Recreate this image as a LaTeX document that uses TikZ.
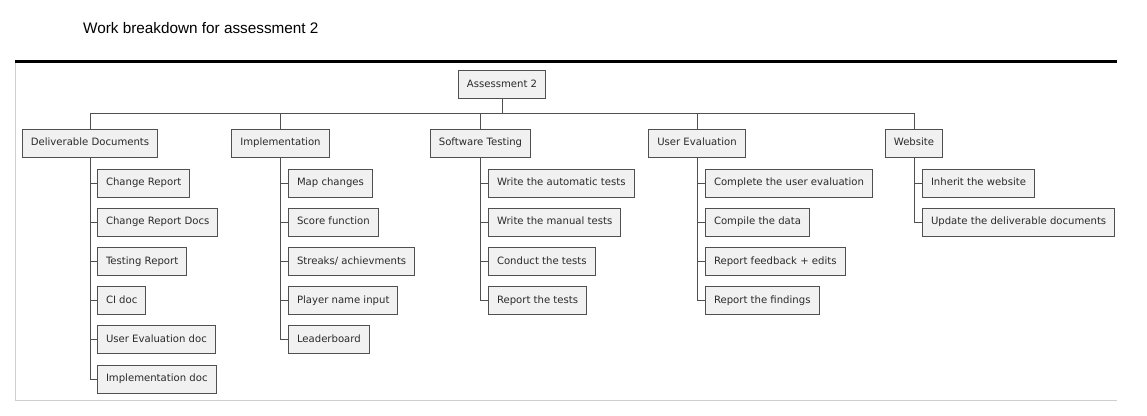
\documentclass[tikz,border=0pt]{standalone}
\usepackage{fontspec}
\setmainfont{DejaVu Sans}
\newfontfamily\titlefont{Liberation Sans}
\usetikzlibrary{calc}

\definecolor{boxfill}{HTML}{F1F1F1}
\definecolor{boxline}{HTML}{505050}
\definecolor{boxtext}{HTML}{2A2A2A}
\definecolor{framegray}{HTML}{CFCFCF}

\begin{document}
\begin{tikzpicture}[x=1pt, y=-1pt,
        task/.style={draw=boxline, fill=boxfill, line width=1pt, text=boxtext,
            font=\fontsize{10.1}{12}\selectfont, inner xsep=8.5pt, inner ysep=0pt,
            minimum height=28pt, text height=7.5pt, text depth=2pt},
        link/.style={draw=boxline, line width=1pt}
    ]
            \useasboundingbox (0,0) rectangle (1147,415);
            \fill[white] (0,0) rectangle (1147,415);

            % frame
            \draw[framegray, line width=1pt] (15.5,61) -- (15.5,400.5) -- (1117,400.5);
            \draw[black, line width=2.5pt] (15,61.5) -- (1117,61.5);
            \node[anchor=base west, inner sep=0pt, font=\titlefont\fontsize{15.3}{18}\selectfont] (title) at (83,33) {Work breakdown for assessment 2};

            % top levels
            \node[task] (ass) at (502,84.5) {Assessment 2};
            \node[task] (dd) at (90,143) {Deliverable Documents};
            \node[task] (imp) at (280.5,143) {Implementation};
            \node[task] (st) at (480.5,143) {Software Testing};
            \node[task] (ue) at (697,143) {User Evaluation};
            \node[task] (web) at (914,143) {Website};
            \coordinate (bar) at (0,113);
            \foreach \p in {dd, imp, st, ue, web}
                \draw[link] (ass.south) |- (bar -| \p.north) -- (\p.north);

            % work packages
            \foreach \t [count=\i] in {Change Report, Change Report Docs, Testing Report, CI doc, User Evaluation doc, Implementation doc}
                \node[task, anchor=west] (dd\i) at (97,{183+39.2*(\i-1)}) {\t};
            \foreach \t [count=\i] in {Map changes, Score function, Streaks/ achievments, Player name input, Leaderboard}
                \node[task, anchor=west] (imp\i) at (288,{183+39.2*(\i-1)}) {\t};
            \foreach \t [count=\i] in {Write the automatic tests, Write the manual tests, Conduct the tests, Report the tests}
                \node[task, anchor=west] (st\i) at (488,{183+39.2*(\i-1)}) {\t};
            \foreach \t [count=\i] in {Complete the user evaluation, Compile the data, Report feedback + edits, Report the findings}
                \node[task, anchor=west] (ue\i) at (705,{183+39.2*(\i-1)}) {\t};
            \foreach \t [count=\i] in {Inherit the website, Update the deliverable documents}
                \node[task, anchor=west] (web\i) at (922,{183+39.2*(\i-1)}) {\t};

            \foreach \i in {1,...,6} \draw[link] (dd.south) |- (dd\i.west);
            \foreach \i in {1,...,5} \draw[link] (imp.south) |- (imp\i.west);
            \foreach \i in {1,...,4} \draw[link] (st.south) |- (st\i.west);
            \foreach \i in {1,...,4} \draw[link] (ue.south) |- (ue\i.west);
            \foreach \i in {1,2} \draw[link] (web.south) |- (web\i.west);
        \end{tikzpicture}
\end{document}
